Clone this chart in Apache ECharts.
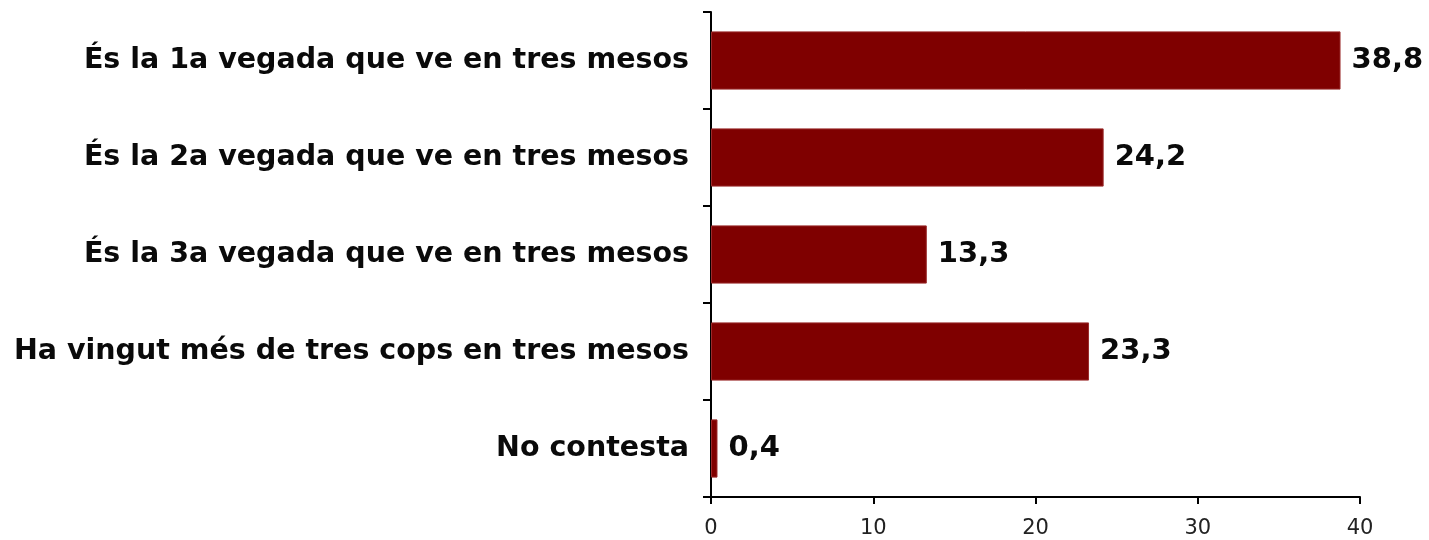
<!DOCTYPE html>
<html>
<head>
<meta charset="utf-8">
<style>
  html, body { margin: 0; padding: 0; background: #fff; }
  #chart { width: 1429px; height: 540px; }
</style>
<script src="https://cdn.jsdelivr.net/npm/echarts@6/dist/echarts.min.js"></script>
</head>
<body>
<div id="chart"></div>
<script>
// Categories (top to bottom) and percentages
const categories = [
  'És la 1a vegada que ve en tres mesos',
  'És la 2a vegada que ve en tres mesos',
  'És la 3a vegada que ve en tres mesos',
  'Ha vingut més de tres cops en tres mesos',
  'No contesta'
];
const values = [38.8, 24.2, 13.3, 23.3, 0.4];
const xTicks = [0, 10, 20, 30, 40];

const chart = echarts.init(document.getElementById('chart'));
const fontFamily = '"DejaVu Sans", Verdana, sans-serif';

chart.setOption({
  animation: false,
  backgroundColor: '#ffffff',
  grid: { left: 711, right: 69, top: 12, bottom: 43 },
  xAxis: {
    type: 'value',
    min: xTicks[0],
    max: xTicks[xTicks.length - 1],
    interval: xTicks[1] - xTicks[0],
    splitLine: { show: false },
    axisLine: { show: true, lineStyle: { color: '#000', width: 2 } },
    axisTick: { show: true, length: 7, lineStyle: { color: '#000', width: 2 } },
    axisLabel: {
      margin: 21,
      color: '#222',
      fontFamily: fontFamily,
      fontSize: 21,
      formatter: v => String(v)
    }
  },
  yAxis: {
    type: 'category',
    data: categories,
    inverse: true,
    axisLine: { show: true, lineStyle: { color: '#000', width: 2 } },
    axisTick: { show: true, length: 8, lineStyle: { color: '#000', width: 2 } },
    axisLabel: {
      margin: 22,
      color: '#0a0a0a',
      fontFamily: fontFamily,
      fontWeight: 'bold',
      fontSize: 28.5
    }
  },
  series: [{
    type: 'bar',
    data: values,
    barWidth: '60%',
    itemStyle: { color: '#7f0000', borderColor: '#9a2a2a', borderWidth: 1 },
    label: {
      show: true,
      position: 'right',
      distance: 11,
      color: '#0a0a0a',
      fontFamily: fontFamily,
      fontWeight: 'bold',
      fontSize: 29,
      formatter: p => p.value.toFixed(1).replace('.', ',')
    }
  }]
});
</script>
</body>
</html>
